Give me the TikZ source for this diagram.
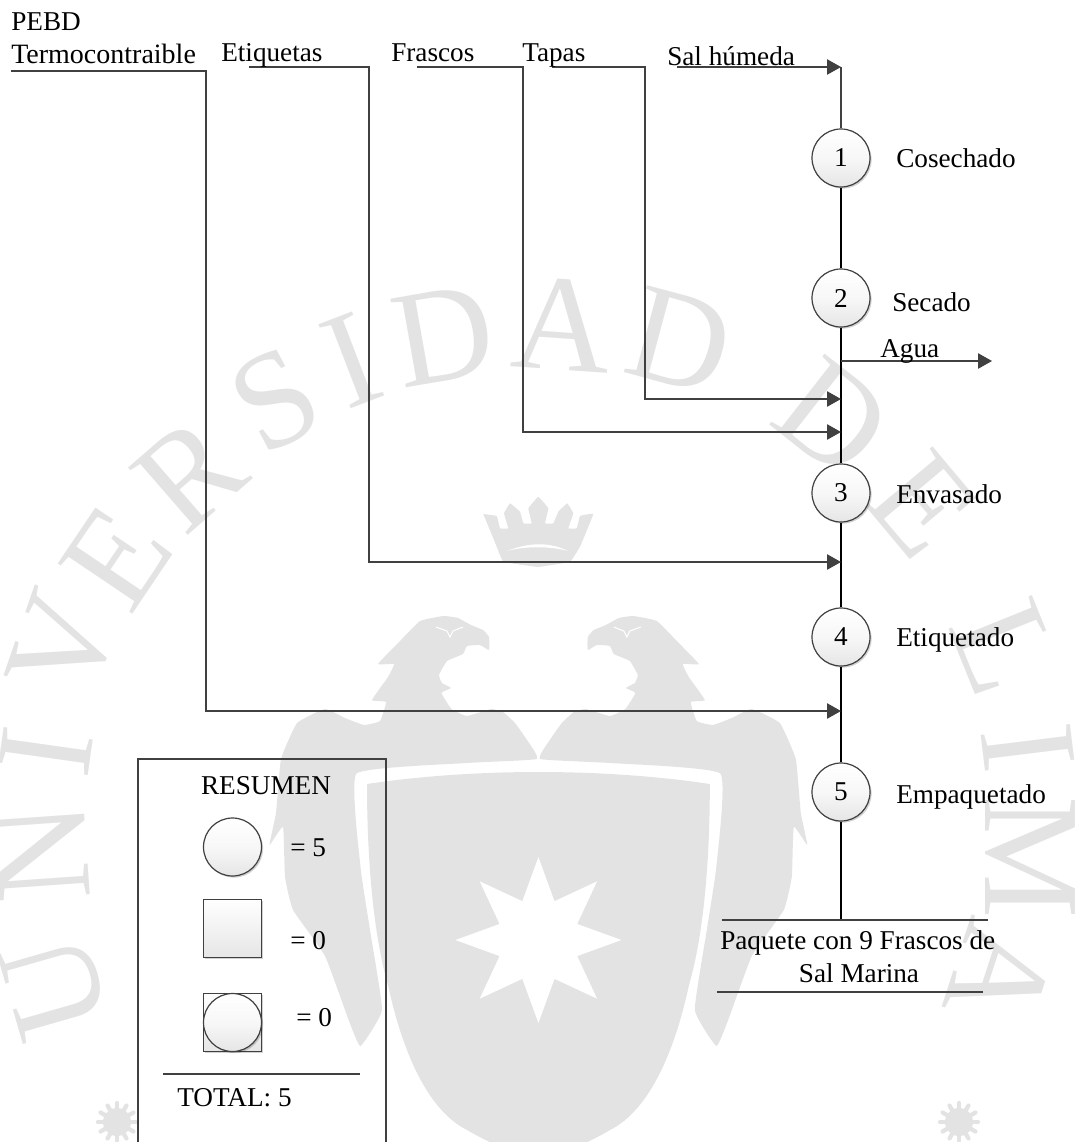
\documentclass[tikz,border=0pt]{standalone}
\usepackage{fontspec}
\setmainfont{Liberation Serif}
\usetikzlibrary{arrows.meta,shadows,calc}
\definecolor{wm}{HTML}{E3E3E3}
\definecolor{ln}{HTML}{404040}
\tikzset{
  lbl/.style={anchor=base west,inner sep=0pt,font=\fontsize{20.4}{24}\selectfont,text=black},
  lblc/.style={anchor=base,inner sep=0pt,font=\fontsize{20.4}{24}\selectfont,text=black},
  wmletter/.style={inner sep=0pt,text=wm,font=\fontsize{103}{103}\selectfont},
  proc/.style={circle,draw=ln,line width=.9pt,minimum size=43.5pt,inner sep=0pt,top color=white,bottom color=white!90!black,middle color=white!97!black,
     drop shadow={shadow xshift=1.2pt,shadow yshift=-1.2pt,fill=black,opacity=.18},font=\fontsize{20.4}{24}\selectfont},
  sq/.style={rectangle,draw=ln,line width=.9pt,minimum size=43.5pt,inner sep=0pt,top color=white,bottom color=white!90!black,
     drop shadow={shadow xshift=1.2pt,shadow yshift=-1.2pt,fill=black,opacity=.18}},
  flow/.style={draw=ln,line width=1.15pt},
  flowa/.style={flow,-{Triangle[length=10.5pt,width=11.5pt]}},
  mainl/.style={draw=black,line width=1.5pt},
  rule/.style={draw=ln,line width=1.15pt},
}
\newcommand{\eaglebody}{%
  \fill[wm] plot[smooth cycle,tension=.22] coordinates{
   (443.5,616)(458,618)(471,625)(483,630)(489,637)(489,650)(480,645)(467,646)(463,654)(447,661)(439,675)(442,683)(451,688)(441.5,693)(451.5,709)(467,716)(491,709)(503,712)(515,723)(527,740)(536.5,759)
   (467,763)(356.5,773.5)(360.5,867)(370,930)(382,1010)(360.5,1046)(349,1021)(325,956)(293,910)(285,877)(283,827)(269.5,845)(276,813)(281,759)(297,723)(325,709)(345,718)(364,725)(380,721)(386,702)(372,700)(388,677)(394,664)(378,664)(400,641)(420,621)};
  \draw[white,line width=.8pt] (436,627) -- (447,631) -- (450,637) -- (453,631) -- (463,627);
  \draw[white,line width=1.1pt] (467,648) -- (479,647);
}
\newcommand{\dg}[1]{\raisebox{-1.2pt}{#1}}
\begin{document}
\begin{tikzpicture}[x=0.75pt,y=-0.75pt]
\useasboundingbox (0,0) rectangle (1080,1142);
% ---- watermark ----
\begin{scope}
\clip (0,0) rectangle (1080,1142);
\node[wmletter,rotate=106] (wU) at (54,987) {U};
\node[wmletter,rotate=94] (wN) at (42,852) {N};
\node[wmletter,rotate=82] (wI) at (46,752) {I};
\node[wmletter,rotate=71] (wV) at (63,645) {V};
\node[wmletter,rotate=56] (wE) at (117,558) {E};
\node[wmletter,rotate=41] (wR) at (190,475) {R};
\node[wmletter,rotate=28] (wS) at (275,400) {S};
\node[wmletter,rotate=21] (wIb) at (352,360) {I};
\node[wmletter,rotate=10] (wD) at (444,336) {D};
\node[wmletter,rotate=-4] (wA) at (562,325) {A};
\node[wmletter,rotate=-15] (wDb) at (680,341) {D};
\node[wmletter,rotate=-38] (wDc) at (833,418) {D};
\node[wmletter,rotate=-50] (wEb) at (923,505) {E};
\node[wmletter,rotate=-68] (wL) at (1005,648) {L};
\node[wmletter,rotate=-83] (wIc) at (1028,748) {I};
\node[wmletter,rotate=-90] (wM) at (1030,858) {M};
\node[wmletter,rotate=-108] (wAb) at (1000,975) {A};
% eagles
\eaglebody
\begin{scope}[xshift=807.6pt,xscale=-1]
\eaglebody
\end{scope}
% shield
\fill[wm] (367,784) .. controls (420,776) and (480,772) .. (538.4,772)
  .. controls (597,772) and (657,776) .. (709.8,784)
  .. controls (710,850) and (705,930) .. (689,985)
  .. controls (675,1050) and (650,1110) .. (610,1130)
  .. controls (590,1142) and (560,1155) .. (538.4,1160)
  .. controls (517,1155) and (487,1142) .. (467,1130)
  .. controls (427,1110) and (402,1050) .. (388,985)
  .. controls (372,930) and (367,850) .. (367,784) -- cycle;
\fill[white] plot coordinates{
 ({538.4+83*cos(0)},{940+83*sin(0)}) ({538.4+42*cos(22.5)},{940+42*sin(22.5)})
 ({538.4+83*cos(45)},{940+83*sin(45)}) ({538.4+42*cos(67.5)},{940+42*sin(67.5)})
 ({538.4+83*cos(90)},{940+83*sin(90)}) ({538.4+42*cos(112.5)},{940+42*sin(112.5)})
 ({538.4+83*cos(135)},{940+83*sin(135)}) ({538.4+42*cos(157.5)},{940+42*sin(157.5)})
 ({538.4+83*cos(180)},{940+83*sin(180)}) ({538.4+42*cos(202.5)},{940+42*sin(202.5)})
 ({538.4+83*cos(225)},{940+83*sin(225)}) ({538.4+42*cos(247.5)},{940+42*sin(247.5)})
 ({538.4+83*cos(270)},{940+83*sin(270)}) ({538.4+42*cos(292.5)},{940+42*sin(292.5)})
 ({538.4+83*cos(315)},{940+83*sin(315)}) ({538.4+42*cos(337.5)},{940+42*sin(337.5)})} -- cycle;
% crown
\fill[wm] plot[smooth,tension=.12] coordinates{
 (483.3,514)(496.7,516)(500,528.3)(508.3,528.3)(504,513.3)(510,503.3)(520,511.7)(523.3,523.3)(531.7,523.3)(528.3,508.3)(538.3,496.7)(548.3,508.3)(545,523.3)(553.3,523.3)(558.3,511.7)(567.3,503.3)(573.3,513.3)(568.3,528.3)(576.7,528.3)(580,516)(593.3,514)(580,546.7)(570,561.7)(538,567)(503.3,561.7)(496.7,546.7)} -- cycle;
\fill[white] (507,551) .. controls (530,542) and (550,542) .. (568,551) .. controls (550,546) and (525,546) .. (507,551) -- cycle;
% small stars
\foreach \cx in {117,959} {
  \foreach \a in {0,30,60,90,120,150} {
    \draw[wm,line width=3.2pt,line cap=round] ({\cx+19*cos(\a)},{1122+19*sin(\a)}) -- ({\cx-19*cos(\a)},{1122-19*sin(\a)});
  }
  \fill[wm] (\cx,1122) circle (10.5pt);
}
\end{scope}
% ---- process nodes ----
\coordinate (top) at (841,67);
\coordinate (src) at (677,67);
\coordinate (jt) at (841,399);
\coordinate (jf) at (841,432);
\coordinate (je) at (841,562);
\coordinate (jp) at (841,711);
\coordinate (ja) at (841,361);
\coordinate (ae) at (992,361);
\coordinate (bot) at (841,920);
\coordinate (pl) at (722,920);
\coordinate (pr) at (988,920);
\coordinate (ql) at (717,992);
\coordinate (qr) at (983,992);
\coordinate (tl) at (11,71);
\coordinate (tc) at (206,71);
\coordinate (el) at (249,67);
\coordinate (ec) at (369,67);
\coordinate (fl) at (417,67);
\coordinate (fc) at (523,67);
\coordinate (al) at (552,67);
\coordinate (ac) at (645,67);
\node[proc] (n1) at (841,158) {\dg{1}};
\node[proc] (n2) at (841,298) {\dg{2}};
\node[proc] (n3) at (841,493) {\dg{3}};
\node[proc] (n4) at (841,637) {\dg{4}};
\node[proc] (n5) at (841,792) {\dg{5}};
\draw[flow] (top) -- (n1);
\draw[mainl] (n1) -- (n2);
\draw[mainl] (n2) -- (n3);
\draw[mainl] (n3) -- (n4);
\draw[mainl] (n4) -- (n5);
\draw[mainl] (n5) -- (bot);
\draw[flowa] (src) -- (top);
\draw[flowa] (al) -- (ac) -- (ac |- jt) -- (jt);
\draw[flowa] (fl) -- (fc) -- (fc |- jf) -- (jf);
\draw[flowa] (el) -- (ec) -- (ec |- je) -- (je);
\draw[flowa] (tl) -- (tc) -- (tc |- jp) -- (jp);
\draw[flowa] (ja) -- (ae);
\draw[rule] (pl) -- (pr);
\draw[rule] (ql) -- (qr);
% labels
\node[lbl] (tPEBD) at (11,30) {PEBD};
\node[lbl,font=\fontsize{21}{24}\selectfont] (tTer) at (11,63) {Termocontraible};
\node[lbl] (tEti) at (221,61) {Etiquetas};
\node[lbl] (tFra) at (391,61) {Frascos};
\node[lbl] (tTap) at (522,61) {Tapas};
\node[lbl] (tSal) at (667,65) {Sal húmeda};
\node[lbl] (tCos) at (896,167) {Cosechado};
\node[lbl] (tSec) at (892,311) {Secado};
\node[lbl] (tAgu) at (880,357) {Agua};
\node[lbl] (tEnv) at (896,503) {Envasado};
\node[lbl] (tEtq) at (896,646) {Etiquetado};
\node[lbl] (tEmp) at (896,803) {Empaquetado};
\node[lbl] (tPaq) at (720,949) {Paquete con 9 Frascos de};
\node[lblc] (tMar) at (859,982) {Sal Marina};
% legend
\draw[flow] (138,1150) -- (138,759) -- (386,759) -- (386,1150);
\node[lblc] (tRes) at (266,794) {RESUMEN};
\node[proc] (lc) at (232.5,847) {};
\node[lbl] (l5) at (290,856) {= 5};
\node[sq] (ls) at (232.5,928.5) {};
\node[lbl] (l0) at (290,949) {= 0};
\node[sq] (lq) at (232.5,1022.5) {};
\node[proc] (lqc) at (232.5,1022.5) {};
\node[lbl] (l0b) at (296,1026) {= 0};
\coordinate (ml) at (163,1074);
\coordinate (mr) at (360,1074);
\draw[rule] (ml) -- (mr);
\node[lbl] (tTot) at (177,1106) {TOTAL: 5};
\end{tikzpicture}
\end{document}
